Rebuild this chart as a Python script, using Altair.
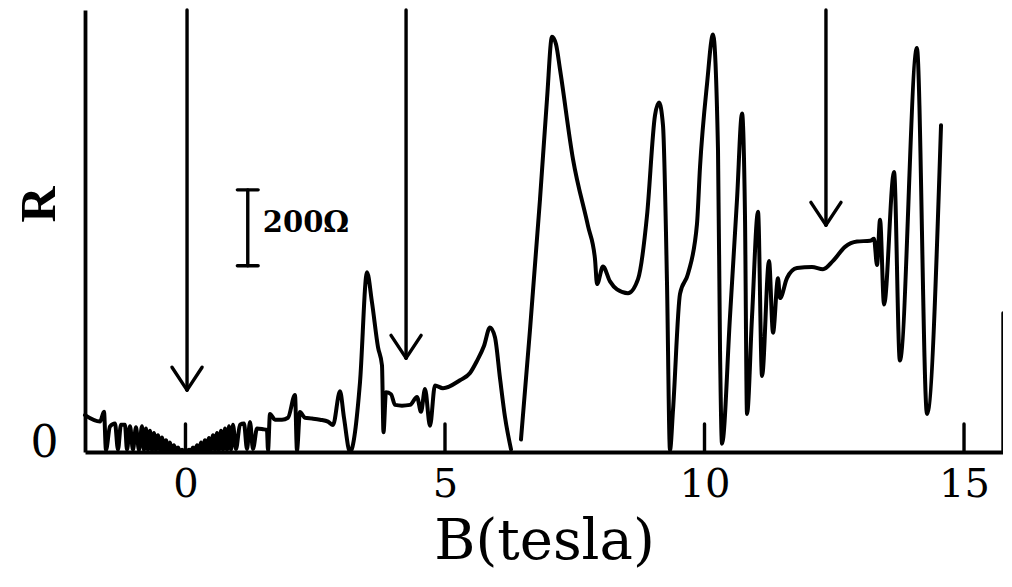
import altair as alt
import pandas as pd

# ---- magnetoresistance trace (B in tesla, R in ohm) ----
B_seg1 = [-1.936, -1.647, -1.570, -1.532, -1.455, -1.358, -1.301, -1.243, -1.166, -1.127,
          -1.069, -1.012, -0.954, -0.896, -0.838, -0.800, -0.761, -0.723, -0.684, -0.645,
          -0.607, -0.568, -0.530, -0.491, -0.453, -0.414, -0.376, -0.337, -0.299, -0.260,
          -0.222, -0.183, -0.145, -0.106, -0.067, 0.000, 0.067, 0.106, 0.145, 0.183,
          0.222, 0.260, 0.299, 0.337, 0.376, 0.414, 0.453, 0.491, 0.530, 0.568,
          0.607, 0.645, 0.684, 0.723, 0.761, 0.800, 0.838, 0.877, 0.915, 0.973,
          1.050, 1.127, 1.185, 1.243, 1.301, 1.378, 1.493, 1.570, 1.590, 1.628,
          1.724, 1.859, 1.975, 2.110, 2.148, 2.206, 2.303, 2.437, 2.592, 2.746,
          2.842, 2.977, 3.054, 3.170, 3.362, 3.497, 3.593, 3.709, 3.786, 3.815,
          3.863, 3.960, 4.037, 4.171, 4.326, 4.461, 4.538, 4.615, 4.711, 4.807,
          4.961, 5.289, 5.482, 5.617, 5.751, 5.867, 5.963, 6.060, 6.156, 6.272]
R_seg1 = [97, 80, 106, 5, 67, 75, 6, 72, 72, 6,
          68, 6, 65, 5, 68, 5, 62, 5, 56, 4,
          50, 4, 44, 4, 38, 3, 31, 3, 25, 2,
          18, 2, 12, 1, 6, 0, 6, 2, 12, 2,
          18, 3, 25, 3, 31, 3, 37, 4, 44, 4,
          50, 4, 56, 5, 62, 5, 68, 6, 72, 8,
          72, 75, 8, 79, 8, 62, 60, 58, 4, 100,
          85, 85, 90, 150, 4, 105, 90, 88, 85, 80,
          71, 160, 90, 0, 183, 473, 394, 276, 228, 52,
          157, 152, 124, 122, 124, 145, 106, 166, 69, 175,
          168, 189, 208, 240, 279, 328, 302, 194, 92, 7]

B_seg2 = [6.464, 6.638, 6.830, 6.965, 7.062, 7.139, 7.216, 7.466, 7.755, 7.890,
          7.929, 8.044, 8.179, 8.314, 8.526, 8.719, 8.892, 9.046, 9.123, 9.200,
          9.277, 9.335, 9.393, 9.528, 9.682, 9.855, 9.913, 10.048, 10.164, 10.260,
          10.299, 10.337, 10.491, 10.626, 10.723, 10.780, 10.819, 10.915, 11.031, 11.108,
          11.243, 11.320, 11.416, 11.455, 11.590, 11.782, 12.071, 12.283, 12.476, 12.707,
          12.938, 13.189, 13.266, 13.324, 13.382, 13.459, 13.652, 13.764, 14.092, 14.287,
          14.557]
R_seg2 = [33, 322, 664, 928, 1093, 1073, 1007, 771, 595, 508,
          442, 488, 449, 428, 418, 455, 622, 886, 920, 860,
          447, 5, 110, 416, 469, 600, 749, 968, 1099, 795,
          269, 22, 356, 664, 891, 620, 100, 355, 632, 200,
          503, 314, 457, 405, 458, 484, 487, 481, 503, 540,
          554, 556, 561, 492, 611, 388, 737, 241, 1063, 100,
          860]

# axis ticks and annotations
tick_B = [0, 5, 10, 15]
arrow_B = [0.03, 4.25, 12.34]
arrow_tip_R = [163, 247, 597]
scale_bar_B = 1.20
scale_bar_R = [490, 690]
scale_label = ["200Ω"]
scale_label_B = [1.49]
scale_label_R = [603]

# ---- layout constants ----
X_MIN, X_MAX = -1.936, 15.751
Y_MAX = 1163.3
TICK_LEN = 74
HEAD_W = 0.29
HEAD_H = 60
CAP_W = 0.20
RIGHT_EDGE_TOP = 366

xs = alt.Scale(domain=[X_MIN, X_MAX], nice=False, zero=False)
ys = alt.Scale(domain=[0, Y_MAX], nice=False, zero=False)

curve_df = pd.DataFrame({
    "B": B_seg1 + B_seg2,
    "R": R_seg1 + R_seg2,
    "seg": ["a"] * len(B_seg1) + ["b"] * len(B_seg2),
})

segs = []
for b in tick_B:
    segs.append((b, 0, b, TICK_LEN))
for b, tip in zip(arrow_B, arrow_tip_R):
    segs.append((b, Y_MAX, b, tip))
    segs.append((b - HEAD_W, tip + HEAD_H, b, tip))
    segs.append((b + HEAD_W, tip + HEAD_H, b, tip))
segs.append((scale_bar_B, scale_bar_R[0], scale_bar_B, scale_bar_R[1]))
for r in scale_bar_R:
    segs.append((scale_bar_B - CAP_W, r, scale_bar_B + CAP_W, r))
segs.append((X_MAX, 0, X_MAX, RIGHT_EDGE_TOP))
seg_df = pd.DataFrame(segs, columns=["x1", "y1", "x2", "y2"])

x_axis = alt.Axis(values=tick_B, title="B(tesla)", tickSize=0, ticks=False, grid=False,
                  labelFontSize=40, labelFont="DejaVu Serif", labelColor="black",
                  labelPadding=12, labelFlush=False, labelOverlap=False,
                  domainColor="black", domainWidth=3.8,
                  titleFontSize=56, titleFont="DejaVu Serif", titleFontWeight="normal",
                  titleColor="black", titlePadding=10)
y_axis = alt.Axis(values=[0], title="R", tickSize=0, ticks=False, grid=False,
                  labelFontSize=44, labelFont="DejaVu Serif", labelColor="black",
                  labelPadding=27, labelOffset=-9,
                  domainColor="black", domainWidth=3.8,
                  titleFontSize=50, titleFont="Liberation Serif", titleFontWeight="bold",
                  titleColor="black", titleAngle=270, titleX=-46, titleY=194,
                  titleAlign="center", titleBaseline="middle")

curve = alt.Chart(curve_df).mark_line(
    color="black", strokeWidth=4, strokeJoin="round", strokeCap="round",
    interpolate="monotone"
).encode(
    x=alt.X("B:Q", scale=xs, axis=x_axis),
    y=alt.Y("R:Q", scale=ys, axis=y_axis),
    detail="seg:N",
)

rules = alt.Chart(seg_df).mark_rule(color="black", strokeWidth=3.4, strokeCap="round").encode(
    x=alt.X("x1:Q", scale=xs, axis=x_axis),
    y=alt.Y("y1:Q", scale=ys, axis=y_axis),
    x2="x2:Q",
    y2="y2:Q",
)

label = alt.Chart(pd.DataFrame({"B": scale_label_B, "R": scale_label_R, "t": scale_label})).mark_text(
    align="left", baseline="middle", font="DejaVu Serif", fontWeight="bold",
    fontSize=29, color="black"
).encode(
    x=alt.X("B:Q", scale=xs, axis=x_axis),
    y=alt.Y("R:Q", scale=ys, axis=y_axis),
    text="t:N",
)

chart = alt.layer(curve, rules, label).properties(
    width=918, height=442,
    padding={"left": 77, "top": 2, "right": 0, "bottom": 127},
    autosize=alt.AutoSizeParams(type="none"),
    background="white",
).configure_view(stroke=None)

chart.save("out.html", embed_options={"renderer": "svg", "actions": False})
